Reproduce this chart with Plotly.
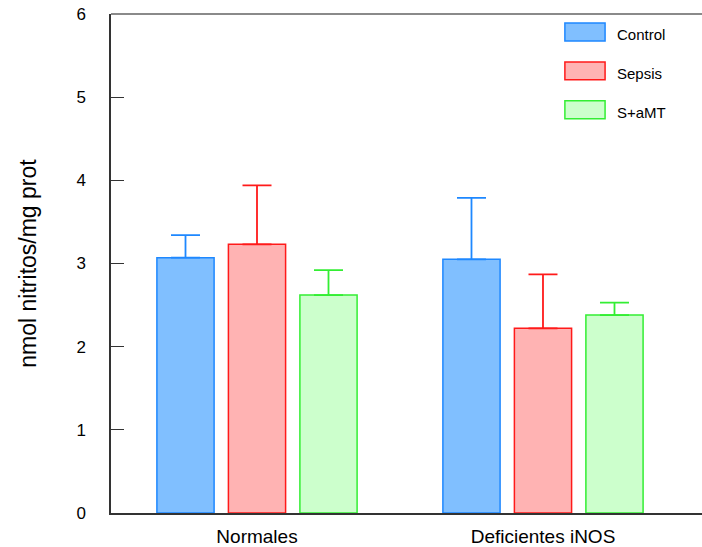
import plotly.graph_objects as go

# Groups and treatment series
groups = ["Normales", "Deficientes iNOS"]
series = ["Control", "Sepsis", "S+aMT"]

# Mean nitrite levels (nmol/mg prot) per series, one value per group
control_vals = [3.07, 3.05]
sepsis_vals = [3.23, 2.22]
samt_vals = [2.62, 2.38]

# Upper error (SEM) per series
control_err = [0.27, 0.74]
sepsis_err = [0.71, 0.65]
samt_err = [0.30, 0.15]

y_ticks = [0, 1, 2, 3, 4, 5, 6]

fills = ["#80bfff", "#ffb3b3", "#ccffcc"]
edges = ["#1e88ff", "#ff1a1a", "#33ee33"]

values = [control_vals, sepsis_vals, samt_vals]
errors = [control_err, sepsis_err, samt_err]

fig = go.Figure()
for name, vals, errs, fc, ec in zip(series, values, errors, fills, edges):
    fig.add_trace(go.Bar(
        name=name,
        x=groups,
        y=vals,
        marker=dict(color=fc, line=dict(color=ec, width=1.5)),
        error_y=dict(type="data", symmetric=False, array=errs,
                     arrayminus=[0] * len(errs), color=ec,
                     thickness=1.8, width=14.5),
        showlegend=False,
    ))

font = "Liberation Sans, Arial, Helvetica, sans-serif"

fig.update_layout(
    width=702, height=547,
    margin=dict(l=111, r=0, t=14, b=34),
    paper_bgcolor="white", plot_bgcolor="white",
    barmode="group", bargap=0.25, bargroupgap=0.2,
    font=dict(family=font, color="black"),
    xaxis=dict(
        type="category", range=[-0.5105, 1.556],
        showline=True, linecolor="#333", linewidth=1.5,
        showgrid=False, ticks="", tickfont=dict(size=19),
        ticklabelstandoff=5,
    ),
    yaxis=dict(
        range=[0, 6], tickvals=y_ticks, ticktext=[str(v) for v in y_ticks],
        showline=True, linecolor="#333", linewidth=1.5,
        showgrid=False, zeroline=False,
        ticks="inside", ticklen=13, tickcolor="#333", tickwidth=1,
        tickfont=dict(size=17), ticklabelstandoff=20,
        title=dict(text="nmol nitritos/mg prot", font=dict(size=23), standoff=33),
    ),
)

# Top frame line
fig.add_shape(type="line", xref="paper", yref="paper", x0=0, x1=1, y0=1, y1=1,
              line=dict(color="#8a8a8a", width=2))

# Legend: swatches and labels in the upper right corner
sw_x = (0.768, 0.836)
sw_y = [(0.946, 0.982), (0.868, 0.904), (0.790, 0.826)]
for name, fc, ec, (y0, y1) in zip(series, fills, edges, sw_y):
    fig.add_shape(type="rect", xref="paper", yref="paper",
                  x0=sw_x[0], x1=sw_x[1], y0=y0, y1=y1,
                  fillcolor=fc, line=dict(color=ec, width=1.5))
    fig.add_annotation(xref="paper", yref="paper", x=0.853, y=(y0 + y1) / 2 - 0.006,
                       text=name, showarrow=False, xanchor="left", yanchor="middle",
                       font=dict(size=15, color="black"))

fig.write_html("out.html")
